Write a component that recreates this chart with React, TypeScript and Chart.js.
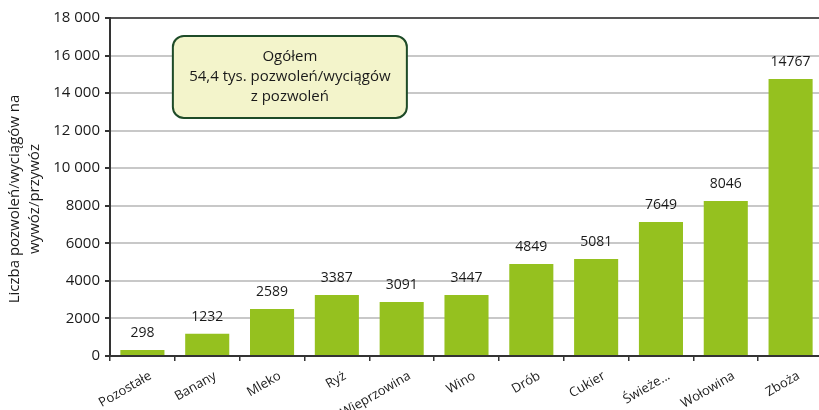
import React, { useEffect, useRef } from "react";
import { Chart, registerables } from "chart.js";

Chart.register(...registerables);

const categories = ["Pozostałe", "Banany", "Mleko", "Ryż", "Wieprzowina", "Wino", "Drób", "Cukier", "Świeże...", "Wołowina", "Zboża"];
// bar heights as drawn in the picture
const barValues = [320, 1180, 2500, 3250, 2880, 3250, 4900, 5160, 7140, 8250, 14750];
// value labels printed above the bars
const valueLabels = ["298", "1232", "2589", "3387", "3091", "3447", "4849", "5081", "7649", "8046", "14767"];
const yTicks = [0, 2000, 4000, 6000, 8000, 10000, 12000, 14000, 16000, 18000];
const yTitle = ["Liczba pozwoleń/wyciągów na", "wywóz/przywóz"];
const noteLines = ["Ogółem", "54,4 tys. pozwoleń/wyciągów", "z pozwoleń"];
// note box extent in data space: [xStart, xEnd] category units, [yTop, yBottom] value units
const noteX = [0.47, 4.08];
const noteY = [17040, 12680];

const FONT = "'Open Sans', 'Noto Sans', sans-serif";

const fmt = (v: number) => (v >= 10000 ? String(v).replace(/(\d)(?=(\d{3})+$)/g, "$1 ") : String(v));

const overlay = {
  id: "overlay",
  afterDatasetsDraw(chart: any) {
    const { ctx, chartArea, scales } = chart;
    const xs = scales.x, ys = scales.y;
    ctx.save();
    // value labels
    const meta = chart.getDatasetMeta(0);
    ctx.font = `14px ${FONT}`;
    ctx.fillStyle = "#1a1a1a";
    ctx.textAlign = "center";
    ctx.textBaseline = "middle";
    meta.data.forEach((bar: any, i: number) => {
      ctx.fillText(valueLabels[i], bar.x, bar.y - 17);
    });
    // category labels, rotated
    ctx.font = `13px ${FONT}`;
    ctx.textAlign = "right";
    categories.forEach((c, i) => {
      ctx.save();
      ctx.translate(xs.getPixelForValue(i) + 8, chartArea.bottom + 19);
      ctx.rotate(-Math.PI / 6);
      ctx.fillText(c, 0, 0);
      ctx.restore();
    });
    ctx.textAlign = "center";
    // note box
    const x0 = xs.getPixelForValue(noteX[0]);
    const x1 = xs.getPixelForValue(noteX[1]);
    const y0 = ys.getPixelForValue(noteY[0]);
    const y1 = ys.getPixelForValue(noteY[1]);
    ctx.beginPath();
    ctx.roundRect(x0, y0, x1 - x0, y1 - y0, 11);
    ctx.fillStyle = "#f3f4cb";
    ctx.fill();
    ctx.lineWidth = 2;
    ctx.strokeStyle = "#1e4b28";
    ctx.stroke();
    ctx.fillStyle = "#1a1a1a";
    ctx.font = `15px ${FONT}`;
    const cx = (x0 + x1) / 2;
    const cy = (y0 + y1) / 2;
    noteLines.forEach((t, i) => ctx.fillText(t, cx, cy + (i - 1) * 20));
    // y title
    ctx.font = `15px ${FONT}`;
    const ty = (chartArea.top + chartArea.bottom) / 2 + 12;
    yTitle.forEach((t, i) => {
      ctx.save();
      ctx.translate(15 + i * 20, ty);
      ctx.rotate(-Math.PI / 2);
      ctx.fillText(t, 0, 0);
      ctx.restore();
    });
    ctx.restore();
  },
};

export default function App() {
  const ref = useRef<HTMLCanvasElement>(null);
  useEffect(() => {
    const chart = new Chart(ref.current!, {
      type: "bar",
      data: {
        labels: categories,
        datasets: [
          {
            data: barValues,
            backgroundColor: "#95c11f",
            barPercentage: 0.68,
            categoryPercentage: 1,
          },
        ],
      },
      options: {
        responsive: false,
        animation: false,
        layout: { padding: { top: 18, right: 1, left: 0, bottom: 0 } },
        plugins: { legend: { display: false }, tooltip: { enabled: false } },
        scales: {
          x: {
            grid: { display: true, drawOnChartArea: false, offset: true, tickLength: 5, tickColor: "#333", lineWidth: 1.5 },
            border: { display: true, color: "#333", width: 2 },
            ticks: { display: false },
            afterFit: (s: any) => { s.height = 54; },
          },
          y: {
            min: 0,
            max: 18000,
            afterBuildTicks: (s: any) => { s.ticks = yTicks.map((v) => ({ value: v })); },
            grid: {
              color: (c: any) => (c.tick && c.tick.value === 18000 ? "#555" : "#c8c8c8"),
              lineWidth: 2,
              tickLength: 5,
              tickColor: "#333",
            },
            border: { display: true, color: "#333", width: 2 },
            ticks: { font: { family: FONT, size: 15 }, color: "#1a1a1a", padding: 5, callback: (v: any) => fmt(Number(v)) },
            afterFit: (s: any) => { s.width = 110; },
          },
        },
      },
      plugins: [overlay],
    });
    return () => chart.destroy();
  }, []);
  return (
    <div style={{ position: "fixed", left: 0, top: 0, width: 819, height: 410, overflow: "hidden", background: "#fff" }}>
      <canvas ref={ref} width={824} height={410} style={{ display: "block" }} />
    </div>
  );
}
